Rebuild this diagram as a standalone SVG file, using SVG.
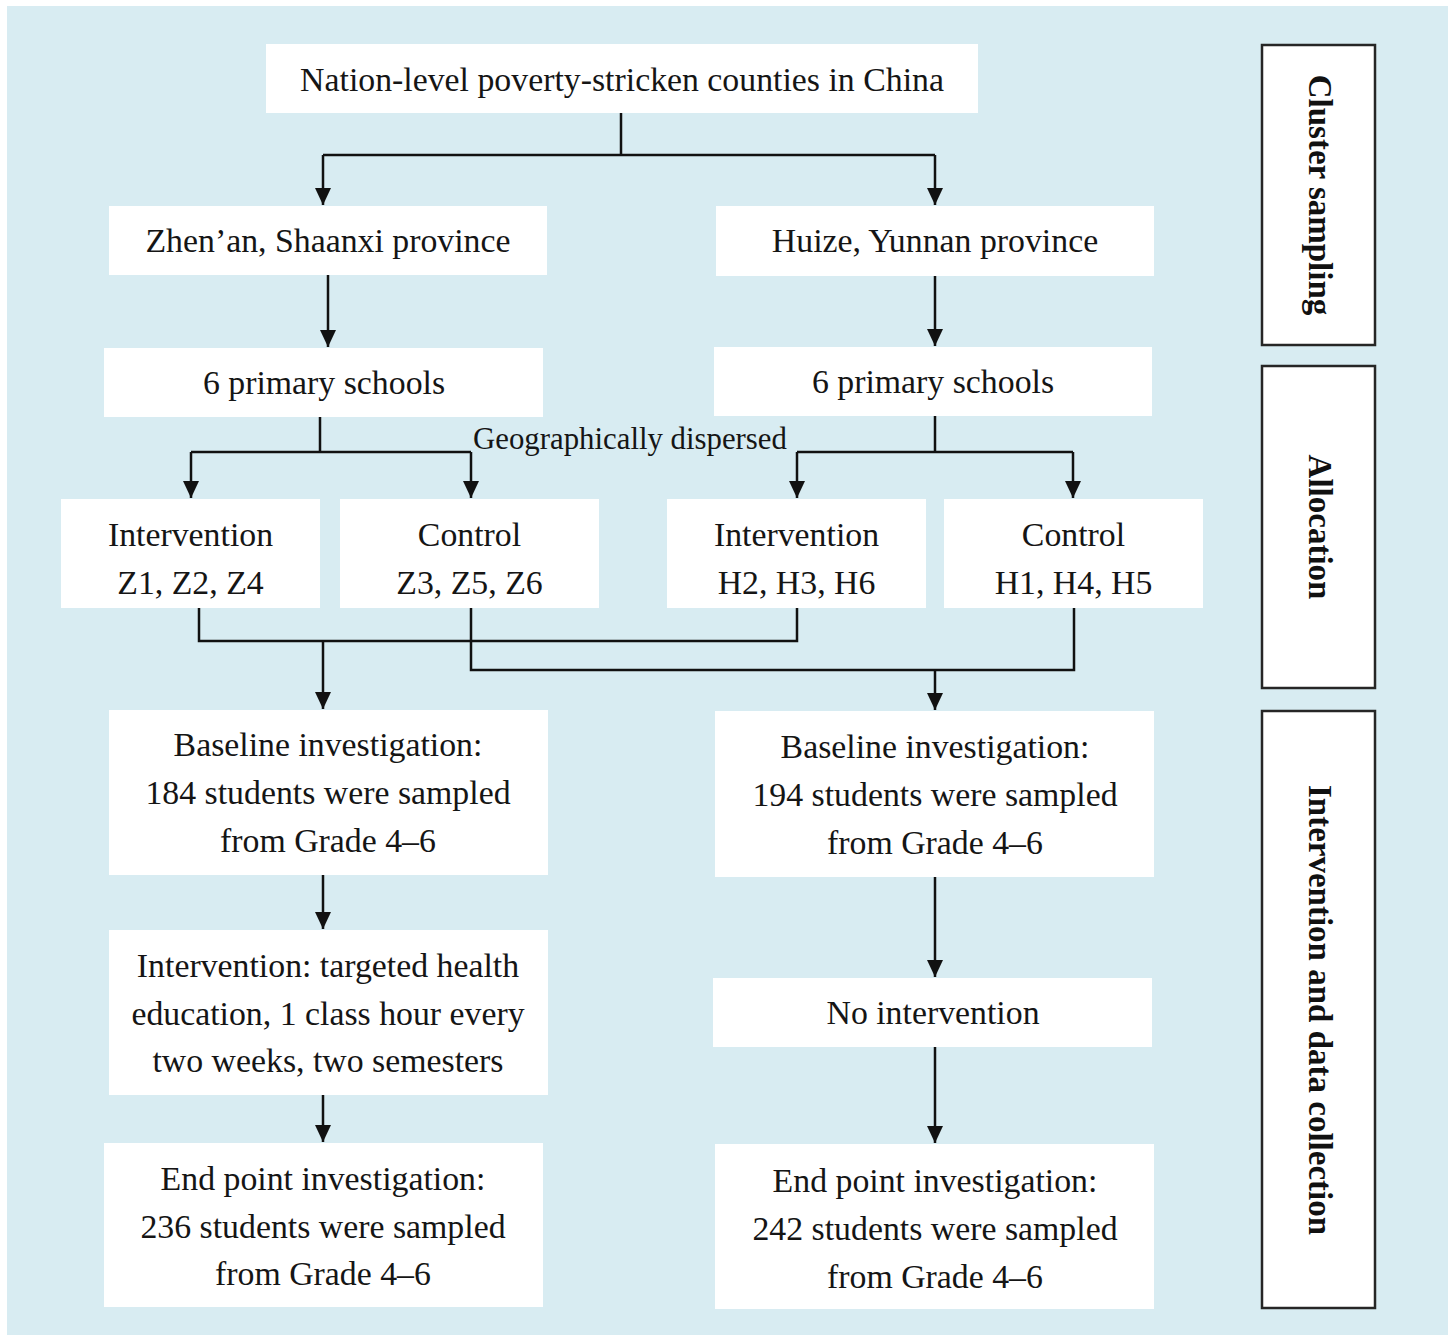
<svg xmlns="http://www.w3.org/2000/svg" width="1448" height="1335" viewBox="0 0 1448 1335">
<style>
.box{fill:#ffffff;}
.side{fill:#ffffff;stroke:#262626;stroke-width:2.5;}
.t{font-family:"Liberation Serif","Times New Roman",serif;font-size:33.8px;fill:#151515;text-anchor:middle;}
.g{font-family:"Liberation Serif","Times New Roman",serif;font-size:30.8px;fill:#151515;text-anchor:middle;}
.s{font-family:"Liberation Serif","Times New Roman",serif;font-size:33px;font-weight:bold;fill:#111;text-anchor:middle;}
.c{fill:none;stroke:#111;stroke-width:2.5;}
</style>
<defs>
<marker id="ah" markerUnits="userSpaceOnUse" markerWidth="18" markerHeight="18" viewBox="0 0 18 18" refX="17" refY="9" orient="auto">
<path d="M0,1 L17,9 L0,17 z" fill="#111"/>
</marker>
</defs>
<rect x="0" y="0" width="1448" height="1335" fill="#ffffff"/>
<rect x="7" y="6" width="1441" height="1329" fill="#d8ecf2"/>

<g id="connectors">
<path class="c" d="M621,113 V155 M323,155 H935"/>
<path class="c" d="M323,155 V205" marker-end="url(#ah)"/>
<path class="c" d="M935,155 V205" marker-end="url(#ah)"/>
<path class="c" d="M328,275 V347" marker-end="url(#ah)"/>
<path class="c" d="M935,276 V346" marker-end="url(#ah)"/>
<path class="c" d="M320,417 V452 M191,452 H471"/>
<path class="c" d="M191,452 V498" marker-end="url(#ah)"/>
<path class="c" d="M471,452 V498" marker-end="url(#ah)"/>
<path class="c" d="M935,416 V452 M797,452 H1073"/>
<path class="c" d="M797,452 V498" marker-end="url(#ah)"/>
<path class="c" d="M1073,452 V498" marker-end="url(#ah)"/>
<path class="c" d="M199,608 V641 H797 V608"/>
<path class="c" d="M323,641 V709" marker-end="url(#ah)"/>
<path class="c" d="M471,608 V670 H1074 V608"/>
<path class="c" d="M935,670 V710" marker-end="url(#ah)"/>
<path class="c" d="M323,875 V929" marker-end="url(#ah)"/>
<path class="c" d="M323,1095 V1142" marker-end="url(#ah)"/>
<path class="c" d="M935,877 V977" marker-end="url(#ah)"/>
<path class="c" d="M935,1047 V1143" marker-end="url(#ah)"/>
</g>

<g id="n_top"><rect class="box" x="266" y="44" width="712" height="69"/><text class="t" x="622" y="91">Nation-level poverty-stricken counties in China</text></g>
<g id="n_zhenan"><rect class="box" x="109" y="206" width="438" height="69"/><text class="t" x="328" y="252">Zhen’an, Shaanxi province</text></g>
<g id="n_huize"><rect class="box" x="716" y="206" width="438" height="70"/><text class="t" x="935" y="252">Huize, Yunnan province</text></g>
<g id="n_schools_l"><rect class="box" x="104" y="348" width="439" height="69"/><text class="t" x="324" y="394">6 primary schools</text></g>
<g id="n_schools_r"><rect class="box" x="714" y="347" width="438" height="69"/><text class="t" x="933" y="393">6 primary schools</text></g>
<g id="n_geo"><text class="g" x="630" y="449">Geographically dispersed</text></g>
<g id="n_int_z"><rect class="box" x="61" y="499" width="259" height="109"/><text class="t" x="190.5" y="546">Intervention</text><text class="t" x="190.5" y="594">Z1, Z2, Z4</text></g>
<g id="n_ctl_z"><rect class="box" x="340" y="499" width="259" height="109"/><text class="t" x="469.5" y="546">Control</text><text class="t" x="469.5" y="594">Z3, Z5, Z6</text></g>
<g id="n_int_h"><rect class="box" x="667" y="499" width="259" height="109"/><text class="t" x="796.5" y="546">Intervention</text><text class="t" x="796.5" y="594">H2, H3, H6</text></g>
<g id="n_ctl_h"><rect class="box" x="944" y="499" width="259" height="109"/><text class="t" x="1073.5" y="546">Control</text><text class="t" x="1073.5" y="594">H1, H4, H5</text></g>
<g id="n_base_l"><rect class="box" x="109" y="710" width="439" height="165"/><text class="t" x="328" y="756">Baseline investigation:</text><text class="t" x="328" y="804">184 students were sampled</text><text class="t" x="328" y="852">from Grade 4–6</text></g>
<g id="n_base_r"><rect class="box" x="715" y="711" width="439" height="166"/><text class="t" x="935" y="758">Baseline investigation:</text><text class="t" x="935" y="806">194 students were sampled</text><text class="t" x="935" y="854">from Grade 4–6</text></g>
<g id="n_interv"><rect class="box" x="109" y="930" width="439" height="165"/><text class="t" x="328" y="977">Intervention: targeted health</text><text class="t" x="328" y="1025">education, 1 class hour every</text><text class="t" x="328" y="1072">two weeks, two semesters</text></g>
<g id="n_nointerv"><rect class="box" x="713" y="978" width="439" height="69"/><text class="t" x="933" y="1024">No intervention</text></g>
<g id="n_end_l"><rect class="box" x="104" y="1143" width="439" height="164"/><text class="t" x="323" y="1190">End point investigation:</text><text class="t" x="323" y="1238">236 students were sampled</text><text class="t" x="323" y="1285">from Grade 4–6</text></g>
<g id="n_end_r"><rect class="box" x="715" y="1144" width="439" height="165"/><text class="t" x="935" y="1192">End point investigation:</text><text class="t" x="935" y="1240">242 students were sampled</text><text class="t" x="935" y="1288">from Grade 4–6</text></g>

<g id="s_cluster"><rect class="side" x="1262" y="45" width="113" height="300"/><text class="s" transform="translate(1320,195) rotate(90)" x="0" y="11">Cluster sampling</text></g>
<g id="s_alloc"><rect class="side" x="1262" y="366" width="113" height="322"/><text class="s" transform="translate(1320,527) rotate(90)" x="0" y="11">Allocation</text></g>
<g id="s_interv"><rect class="side" x="1262" y="711" width="113" height="597"/><text class="s" transform="translate(1320,1010) rotate(90)" x="0" y="11">Intervention and data collection</text></g>
</svg>
